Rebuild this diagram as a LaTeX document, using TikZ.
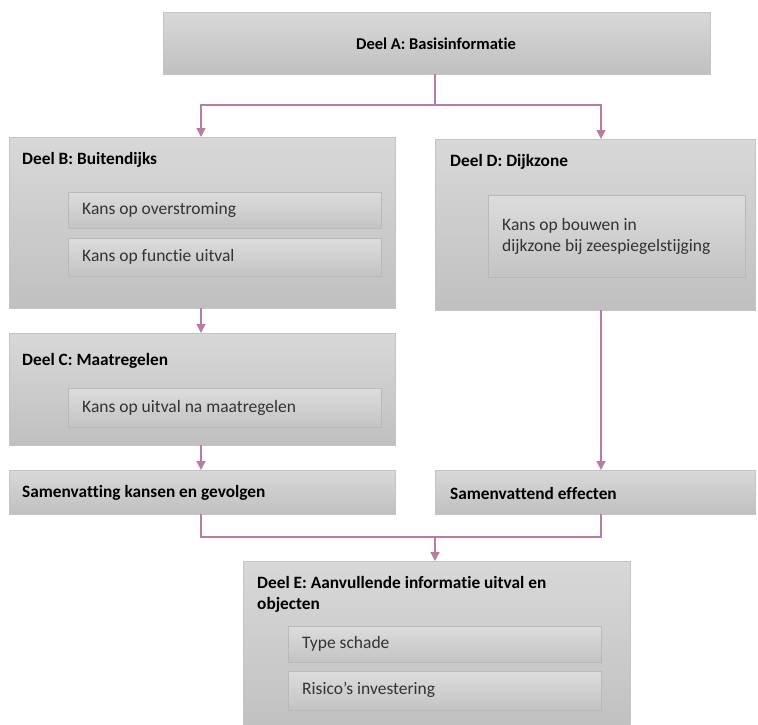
\documentclass[tikz,border=0pt]{standalone}
\usepackage{fontspec}
\setmainfont[Ligatures=NoCommon]{Carlito}
\usetikzlibrary{arrows.meta}
\definecolor{boxtop}{RGB}{216,216,216}
\definecolor{boxbot}{RGB}{192,192,192}
\definecolor{boxline}{RGB}{196,196,196}
\definecolor{itemline}{RGB}{185,185,185}
\definecolor{linkcol}{RGB}{185,125,165}
\begin{document}
\begin{tikzpicture}[x=1pt, y=-1pt,
    part/.style={draw=boxline, top color=boxtop, bottom color=boxbot, anchor=north west, inner sep=0pt},
    item/.style={draw=itemline, line width=0.8pt, top color=boxtop!90!white, bottom color=boxbot!95!white, anchor=north west, inner sep=0pt},
    title/.style={anchor=west, inner sep=0pt, font=\fontsize{17.3}{21}\selectfont\bfseries},
    txt/.style={anchor=west, inner sep=0pt, font=\fontsize{17.5}{21}\selectfont, text=black!80},
    link/.style={draw=linkcol, line width=1.4pt, -{Triangle[width=9pt,length=9pt]}}]
    \useasboundingbox (0,0) rectangle (758,724);
    % parts
    \node[part, minimum width=547pt, minimum height=62pt] (A) at (163,12) {};
    \node[title, anchor=center, font=\fontsize{16.5}{21}\selectfont\bfseries] (At) at (436,44) {Deel A: Basisinformatie};
    \node[part, minimum width=386pt, minimum height=171pt] (B) at (9,137) {};
    \node[title] (Bt) at (22,160) {Deel B: Buitendijks};
    \node[item, minimum width=313pt, minimum height=36pt] (B1) at (68,192) {};
    \node[txt] at (82,210) {Kans op overstroming};
    \node[item, minimum width=313pt, minimum height=38pt] (B2) at (68,238) {};
    \node[txt] at (82,257) {Kans op functie uitval};
    \node[part, minimum width=320pt, minimum height=171pt] (D) at (435,139) {};
    \node[title] (Dt) at (450,162) {Deel D: Dijkzone};
    \node[item, minimum width=257pt, minimum height=82pt] (D1) at (488,195) {};
    \node[txt, align=left] at (502,236) {Kans op bouwen in\\dijkzone bij zeespiegelstijging};
    \node[part, minimum width=386pt, minimum height=112pt] (C) at (9,333) {};
    \node[title] (Ct) at (22,361) {Deel C: Maatregelen};
    \node[item, minimum width=313pt, minimum height=39pt] (C1) at (68,388) {};
    \node[txt] at (82,408) {Kans op uitval na maatregelen};
    \node[part, minimum width=386pt, minimum height=44pt] (S1) at (9,470) {};
    \node[title] at (22,493) {Samenvatting kansen en gevolgen};
    \node[part, minimum width=320pt, minimum height=44pt] (S2) at (435,470) {};
    \node[title] at (450,493) {Samenvattend effecten};
    \node[part, minimum width=387pt, minimum height=170pt] (E) at (243,561) {};
    \node[title, align=left] (Et) at (257,594) {Deel E: Aanvullende informatie uitval en\\objecten};
    \node[item, minimum width=313pt, minimum height=36pt] (E1) at (288,626) {};
    \node[txt] at (302,644) {Type schade};
    \node[item, minimum width=313pt, minimum height=39pt] (E2) at (288,671) {};
    \node[txt] at (302,690) {Risico’s investering};
    % connectors
    \coordinate (Aout) at (435,74);
    \coordinate (split) at (435,105);
    \coordinate (Bin) at (201,137);
    \coordinate (Din) at (601,139);
    \coordinate (Bout) at (201,308);
    \coordinate (Cin) at (201,333);
    \coordinate (Cout) at (201,445);
    \coordinate (S1in) at (201,470);
    \coordinate (Dout) at (601,310);
    \coordinate (S2in) at (601,470);
    \coordinate (S1out) at (201,514);
    \coordinate (S2out) at (601,514);
    \coordinate (join) at (435,537);
    \coordinate (Ein) at (435,561);
    \draw[draw=linkcol, line width=1.4pt] (Aout) -- (split);
    \draw[link] (split) -| (Bin);
    \draw[link] (split) -| (Din);
    \draw[link] (Bout) -- (Cin);
    \draw[link] (Cout) -- (S1in);
    \draw[link] (Dout) -- (S2in);
    \draw[draw=linkcol, line width=1.4pt] (S1out) |- (join) -| (S2out);
    \draw[link] (join) -- (Ein);
\end{tikzpicture}
\end{document}
